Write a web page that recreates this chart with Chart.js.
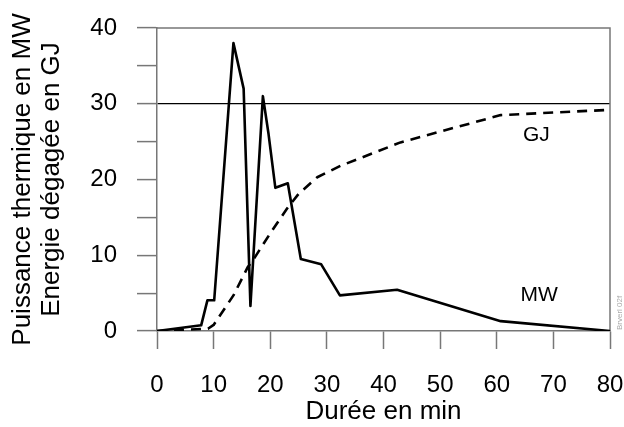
<!DOCTYPE html>
<html>
<head>
<meta charset="utf-8">
<script src="https://cdn.jsdelivr.net/npm/chart.js@4/dist/chart.umd.min.js"></script>
<style>
  html, body { margin: 0; padding: 0; background: #fff; }
  #wrap { width: 624px; height: 427px; position: relative; }
</style>
</head>
<body>
<div id="wrap"><canvas id="c" width="624" height="427"></canvas></div>
<script>
// ---- Data ----
const mwTime   = [0, 7.8, 8.9, 10.1, 13.5, 15.3, 16.5, 18.7, 19.7, 20.9, 23.1, 25.4, 29.0, 32.3, 42.4, 60.7, 80];
const mwValues = [0, 0.75, 4.05, 4.05, 38.0, 32.0, 3.3, 31.0, 26.0, 18.9, 19.5, 9.5, 8.8, 4.7, 5.45, 1.3, 0];

const gjTime   = [0, 9.0, 10.0, 13.5, 16.0, 17.0, 20.0, 23.0, 25.0, 28.3, 32.4, 43.0, 60.7, 80];
const gjValues = [0, 0.3, 0.8, 4.7, 8.4, 9.4, 12.9, 16.2, 18.1, 20.3, 21.8, 24.9, 28.5, 29.2];

const xTicks = [0, 10, 20, 30, 40, 50, 60, 70, 80];
const yTicks = [0, 10, 20, 30, 40];

const yTitle = ['Puissance thermique en MW', 'Energie dégagée en GJ'];
const xTitle = 'Durée en min';
const seriesLabels = ['MW', 'GJ'];
const refLine = 30;
const credit = 'Brverl 02f';

// ---- Helpers ----
const toPts = (xs, ys) => xs.map((x, i) => ({ x: x, y: ys[i] }));
const FONT = '"Liberation Sans", Arial, sans-serif';

const decorPlugin = {
  id: 'decor',
  beforeDatasetsDraw(chart) {
    const { ctx, chartArea: a } = chart;
    ctx.save();
    ctx.strokeStyle = '#777';
    ctx.lineWidth = 1.5;
    ctx.beginPath();
    ctx.moveTo(a.left, a.top);
    ctx.lineTo(a.right, a.top);
    ctx.lineTo(a.right, a.bottom);
    ctx.stroke();
    ctx.restore();
  },
  afterDatasetsDraw(chart) {
    const { ctx, scales, chartArea: a } = chart;
    const xs = scales.x, ys = scales.y;
    ctx.save();
    ctx.fillStyle = '#000';
    ctx.font = '21px ' + FONT;
    ctx.textAlign = 'center';
    ctx.textBaseline = 'middle';
    ctx.fillText(seriesLabels[1], xs.getPixelForValue(67.0), ys.getPixelForValue(25.8));
    ctx.fillText(seriesLabels[0], xs.getPixelForValue(67.5), ys.getPixelForValue(4.7));
    ctx.translate(a.right + 10, a.bottom - 1);
    ctx.rotate(-Math.PI / 2);
    ctx.textAlign = 'left';
    ctx.font = '8px ' + FONT;
    ctx.fillStyle = '#aaa';
    ctx.fillText(credit, 0, 0);
    ctx.restore();
  }
};

new Chart(document.getElementById('c'), {
  type: 'line',
  data: {
    datasets: [
      {
        label: seriesLabels[0],
        data: toPts(mwTime, mwValues),
        borderColor: '#000',
        borderWidth: 2.6,
        borderJoinStyle: 'round',
        pointRadius: 0,
        tension: 0,
        fill: false
      },
      {
        label: seriesLabels[1],
        data: toPts(gjTime, gjValues),
        borderColor: '#000',
        borderWidth: 2.6,
        borderDash: [10, 7],
        borderJoinStyle: 'round',
        pointRadius: 0,
        tension: 0,
        fill: false
      }
    ]
  },
  options: {
    responsive: false,
    animation: false,
    events: [],
    layout: { padding: { top: 28, right: 14, left: 0, bottom: 0 } },
    plugins: { legend: { display: false }, tooltip: { enabled: false } },
    scales: {
      x: {
        type: 'linear',
        min: xTicks[0],
        max: xTicks[xTicks.length - 1],
        afterBuildTicks: (s) => { s.ticks = xTicks.map(v => ({ value: v })); },
        afterFit: (s) => { s.height = 96; s.paddingLeft = 0; s.paddingRight = 0; },
        grid: {
          drawOnChartArea: false,
          drawTicks: true,
          tickLength: 18,
          tickColor: '#777',
          tickWidth: 1.5
        },
        border: { display: true, color: '#777', width: 1.5 },
        ticks: {
          color: '#000',
          font: { family: FONT, size: 24 },
          padding: 22,
          maxRotation: 0,
          autoSkip: false
        },
        title: {
          display: true,
          text: xTitle,
          color: '#000',
          font: { family: FONT, size: 26 },
          padding: { top: 3, bottom: 0 }
        }
      },
      y: {
        type: 'linear',
        min: 0,
        max: 40,
        afterBuildTicks: (s) => {
          const t = [];
          for (let v = 0; v <= 40; v += 5) t.push({ value: v });
          s.ticks = t;
        },
        afterFit: (s) => { s.width = 157; s.paddingTop = 0; s.paddingBottom = 0; },
        grid: {
          drawOnChartArea: true,
          color: (c) => (c.tick && c.tick.value === refLine ? '#000' : 'rgba(0,0,0,0)'),
          lineWidth: 1.2,
          drawTicks: true,
          tickLength: 20,
          tickColor: '#777',
          tickWidth: 1.5
        },
        border: { display: true, color: '#777', width: 1.5 },
        ticks: {
          color: '#000',
          font: { family: FONT, size: 24 },
          padding: 20,
          autoSkip: false,
          callback: (v) => (yTicks.includes(v) ? String(v) : '')
        },
        title: {
          display: true,
          text: yTitle,
          color: '#000',
          font: { family: FONT, size: 26, lineHeight: 1.12 },
          padding: { top: 8, bottom: 0 }
        }
      }
    }
  },
  plugins: [decorPlugin]
});
</script>
</body>
</html>
